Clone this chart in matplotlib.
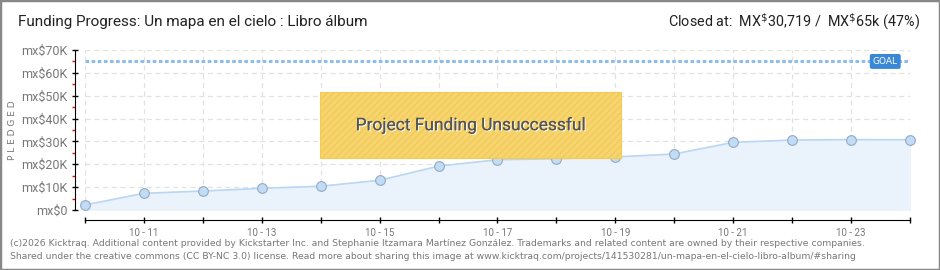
import numpy as np
import matplotlib.pyplot as plt
from matplotlib.patches import Rectangle
import matplotlib.patheffects as pe

plt.rcParams['font.family'] = ['Roboto', 'DejaVu Sans']

# datos
dias = ['10-10', '10-11', '10-12', '10-13', '10-14', '10-15', '10-16', '10-17',
        '10-18', '10-19', '10-20', '10-21', '10-22', '10-23', '10-24']
pledged = [2200, 7300, 8300, 9500, 10400, 13000, 19200, 22000,
           22400, 23200, 24500, 29600, 30600, 30800, 30719]
goal = 65000
yticks = [0, 10000, 20000, 30000, 40000, 50000, 60000, 70000]
ylabels = ['mx$0', 'mx$10K', 'mx$20K', 'mx$30K', 'mx$40K', 'mx$50K', 'mx$60K', 'mx$70K']

W, H = 940, 270
fig = plt.figure(figsize=(W / 100, H / 100), dpi=100)
ax = fig.add_axes([85 / W, 60 / H, 825 / W, 160 / H])

x = np.arange(len(dias))
ax.fill_between(x, pledged, 0, color='#eaf3fc', zorder=1)
ax.plot(x, pledged, color='#b9d6f2', lw=1.2, zorder=3)
ax.plot(x, pledged, 'o', ms=7, mfc='#c2dcf6', mec='#92aac4', mew=0.8, zorder=4, clip_on=False)
ax.axhline(goal, color='#8fbde9', lw=2.2, ls=(0, (1.2, 0.8)), zorder=2)

ax.set_xlim(0, len(dias) - 1)
ax.set_ylim(0, 70000)
ax.set_yticks(yticks)
ax.set_yticklabels(ylabels)
ax.set_yticks(np.arange(5000, 70000, 10000), minor=True)
ax.set_xticks(x)
ax.set_xticklabels([d.replace('-', ' - ') if i % 2 == 1 else '' for i, d in enumerate(dias)])

ax.grid(True, color='#e2e2e2', ls=(0, (4, 3)), lw=0.9)
ax.set_axisbelow(True)
for s in ['top', 'right']:
    ax.spines[s].set_visible(False)
ax.spines['left'].set_position(('outward', 7.2))
ax.spines['bottom'].set_position(('outward', 7.2))
ax.spines['left'].set_bounds(0, 70000)
ax.tick_params(axis='both', direction='inout', length=5, width=1, colors='black',
               labelcolor='#777777')
ax.tick_params(axis='y', pad=3, labelsize=9)
ax.tick_params(axis='x', pad=3.5, labelsize=7)
ax.tick_params(axis='y', which='minor', direction='out', length=2.5, color='red', width=1)

fig.text(13 / W, 1 - 130 / H, 'P L E D G E D', rotation=90, ha='center', va='center',
         color='#777777', fontsize=6.5, family='DejaVu Sans')

# caja de proyecto no financiado
ax.add_patch(Rectangle((0.285, 0.323), 0.365, 0.413, transform=ax.transAxes,
                       facecolor='#f6d46f', edgecolor='#f3ca55', hatch='/////',
                       lw=0.8, zorder=5))
ax.text(0.4675, 0.53, 'Project Funding Unsuccessful', transform=ax.transAxes,
        ha='center', va='center', fontsize=12.5, color='#555555', zorder=6,
        path_effects=[pe.withSimplePatchShadow(offset=(0.8, -0.8), shadow_rgbFace='white', alpha=1),
                      pe.Normal()])

# etiqueta GOAL
ax.text(0.97, goal, 'GOAL', transform=ax.get_yaxis_transform(), ha='center', va='center',
        fontsize=6.5, color='white', family='DejaVu Sans', zorder=6,
        bbox=dict(boxstyle='round,pad=0.25,rounding_size=0.15', fc='#3a87d6', ec='#3a87d6'))

fig.text(18 / W, 1 - 22 / H, 'Funding Progress: Un mapa en el cielo : Libro álbum',
         ha='left', va='center', fontsize=11, color='#222222')
fig.text(920 / W, 1 - 22 / H, r'Closed at:  MX$^{\$}$30,719 /  MX$^{\$}$65k (47%)',
         ha='right', va='center', fontsize=10.4, color='#222222')

footer = ('(c)2026 Kicktraq. Additional content provided by Kickstarter Inc. and Stephanie Itzamara '
          'Martínez González. Trademarks and related content are owned by their respective companies.\n'
          'Shared under the creative commons (CC BY-NC 3.0) license. Read more about sharing this image at '
          'www.kicktraq.com/projects/141530281/un-mapa-en-el-cielo-libro-album/#sharing')
fig.text(10 / W, 1 - 250 / H, footer, ha='left', va='center', fontsize=6.65,
         color='#777777', family='DejaVu Sans', linespacing=1.5)

fig.add_artist(Rectangle((0, 0), 1, 1, transform=fig.transFigure, fill=False,
                         edgecolor='#888888', lw=2.5))

fig.savefig('out.png', dpi=100)
